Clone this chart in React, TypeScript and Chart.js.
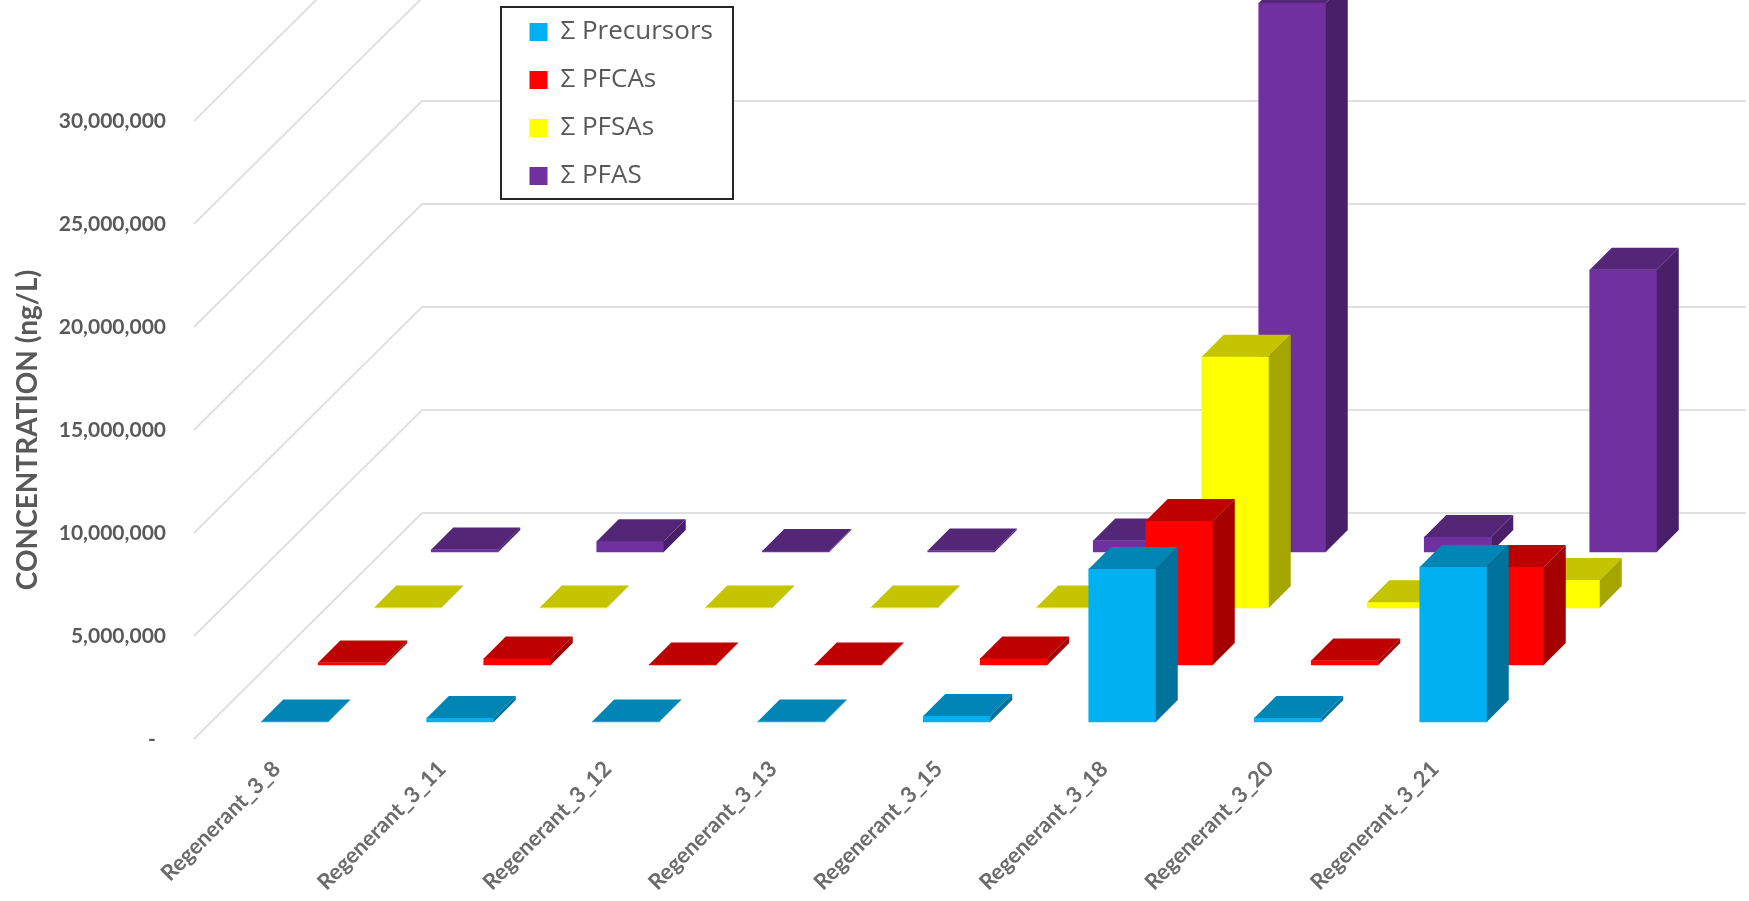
import React, { useEffect, useRef } from "react";
import { Chart, registerables } from "chart.js";

Chart.register(...registerables);

const categories = [
  "Regenerant_3_8", "Regenerant_3_11", "Regenerant_3_12", "Regenerant_3_13",
  "Regenerant_3_15", "Regenerant_3_18", "Regenerant_3_20", "Regenerant_3_21",
];
const precursors = [20000, 200000, 20000, 20000, 290000, 7430000, 200000, 7520000];
const pfcas = [120000, 320000, 30000, 30000, 320000, 6990000, 220000, 4760000];
const pfsas = [20000, 20000, 20000, 20000, 20000, 12200000, 280000, 1360000];
const pfas = [120000, 520000, 50000, 70000, 560000, 26650000, 730000, 13700000];

const seriesNames = ["Σ Precursors", "Σ PFCAs", "Σ PFSAs", "Σ PFAS"];
const frontColors = ["#00B0F0", "#FF0000", "#FFFF00", "#7030A0"];
const topColors = ["#0085B5", "#BF0000", "#C4C400", "#542678"];
const sideColors = ["#00729B", "#A50000", "#A6A600", "#481F68"];

// Each series sits on its own row along the depth of the floor.
const rowShiftX = [18, 75, 131, 188];
const rowShiftY = [17, 74, 131, 187];
const barDepth = 22;
const wallShiftX = 228;
const wallShiftY = 226;
const wallWidth = 1324;
const legendFrame = { left: 501, top: 7, right: 733, bottom: 199 };
const textColor = "#595959";
const fontFamily = '"Lato", "Noto Sans", sans-serif';
const legendFamily = '"Open Sans", "Noto Sans", sans-serif';

const walls3d = {
  id: "walls3d",
  afterLayout(chart: any) {
    const legend = chart.legend;
    legend.left = 507.5;
    legend.right = legendFrame.right;
    legend.top = -3;
    legend.bottom = legendFrame.bottom + 20;
  },
  beforeDraw(chart: any) {
    const { ctx, chartArea, scales } = chart;
    ctx.save();
    ctx.strokeStyle = "#E0E0E0";
    ctx.lineWidth = 2;
    for (const tick of scales.y.ticks) {
      const y = scales.y.getPixelForValue(tick.value);
      ctx.beginPath();
      ctx.moveTo(chartArea.left, y);
      ctx.lineTo(chartArea.left + wallShiftX, y - wallShiftY);
      ctx.lineTo(chartArea.left + wallShiftX + wallWidth, y - wallShiftY);
      ctx.stroke();
    }
    const f = legendFrame;
    ctx.fillStyle = "#FFFFFF";
    ctx.fillRect(f.left, f.top, f.right - f.left, f.bottom - f.top);
    ctx.strokeStyle = "#262626";
    ctx.lineWidth = 2;
    ctx.strokeRect(f.left, f.top, f.right - f.left, f.bottom - f.top);
    ctx.restore();
  },
  beforeDatasetDraw(chart: any, args: any) {
    chart.ctx.save();
    chart.ctx.translate(rowShiftX[args.index], -rowShiftY[args.index]);
  },
  afterDatasetDraw(chart: any, args: any) {
    const ctx = chart.ctx;
    for (const bar of args.meta.data) {
      const { x, y, base, width } = bar.getProps(["x", "y", "base", "width"], true);
      const l = x - width / 2;
      const r = x + width / 2;
      ctx.fillStyle = topColors[args.index];
      ctx.beginPath();
      ctx.moveTo(l, y);
      ctx.lineTo(r, y);
      ctx.lineTo(r + barDepth, y - barDepth);
      ctx.lineTo(l + barDepth, y - barDepth);
      ctx.closePath();
      ctx.fill();
      ctx.fillStyle = sideColors[args.index];
      ctx.beginPath();
      ctx.moveTo(r, y);
      ctx.lineTo(r, base);
      ctx.lineTo(r + barDepth, base - barDepth);
      ctx.lineTo(r + barDepth, y - barDepth);
      ctx.closePath();
      ctx.fill();
    }
    ctx.restore();
  },
};

export default function App() {
  const ref = useRef<HTMLCanvasElement>(null);

  useEffect(() => {
    const values = [precursors, pfcas, pfsas, pfas];
    const chart = new Chart(ref.current as HTMLCanvasElement, {
      type: "bar",
      data: {
        labels: categories,
        datasets: values.map((data, i) => ({
          label: seriesNames[i],
          data,
          backgroundColor: frontColors[i],
          borderWidth: 0,
          barThickness: 67,
          grouped: false,
          clip: false,
        })),
      } as any,
      plugins: [walls3d],
      options: {
        responsive: false,
        animation: false,
        layout: { padding: { left: 0, top: 121, right: 231, bottom: 0 } },
        plugins: {
          tooltip: { enabled: false },
          legend: {
            position: "chartArea",
            align: "start",
            labels: {
              boxWidth: 18,
              boxHeight: 18,
              padding: 22,
              color: textColor,
              font: { family: legendFamily, size: 26 },
            },
          },
        },
        scales: {
          x: {
            afterFit(scale: any) { scale.height = 162; },
            grid: { display: false },
            border: { display: false },
            ticks: {
              autoSkip: false,
              minRotation: 45,
              maxRotation: 45,
              padding: 9,
              color: "#6b6b6b",
              font: { family: fontFamily, size: 22, weight: "bold" },
            },
          },
          y: {
            min: 0,
            max: 30000000,
            afterFit(scale: any) { scale.width = 194; },
            grid: { display: false },
            border: { display: false },
            title: {
              display: true,
              text: "CONCENTRATION (ng/L)",
              color: textColor,
              padding: { top: 11, bottom: 0 },
              font: { family: fontFamily, size: 28, weight: "bold" },
            },
            ticks: {
              stepSize: 5000000,
              padding: 20,
              color: textColor,
              font: { family: fontFamily, size: 21, weight: "bold" },
              callback: (v: any) => (v === 0 ? "-  " : Number(v).toLocaleString("en-US")),
            },
          },
        },
      } as any,
    });
    return () => chart.destroy();
  }, []);

  return (
    <canvas
      ref={ref}
      width={1749}
      height={901}
      style={{ position: "fixed", left: 0, top: 0, display: "block" }}
    />
  );
}
